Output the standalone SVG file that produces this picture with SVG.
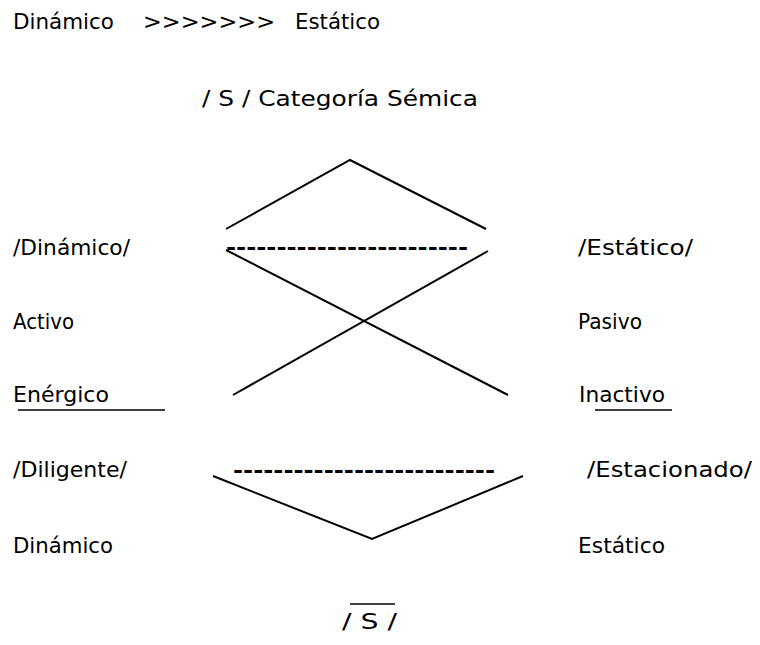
<svg xmlns="http://www.w3.org/2000/svg" width="760" height="645" viewBox="0 0 760 645">
<style>
text{font-family:"DejaVu Sans","Liberation Sans",sans-serif;font-size:21px;fill:#000;}
.dash{font-weight:bold;}
.ln{stroke:#000;stroke-width:2;fill:none;}
.ul{stroke:#000;stroke-width:1.6;fill:none;}
</style>
<rect width="760" height="645" fill="#fff"/>
<g id="title">
<text x="13" y="29" textLength="101" lengthAdjust="spacingAndGlyphs">Dinámico</text>
<text x="143" y="29" textLength="132" lengthAdjust="spacingAndGlyphs">&gt;&gt;&gt;&gt;&gt;&gt;&gt;</text>
<text x="295" y="29" textLength="85" lengthAdjust="spacingAndGlyphs">Estático</text>
</g>
<g id="categoria">
<text x="202" y="106" textLength="276" lengthAdjust="spacingAndGlyphs">/ S / Categoría Sémica</text>
</g>
<g id="left-column">
<text x="13" y="255" textLength="117" lengthAdjust="spacingAndGlyphs">/Dinámico/</text>
<text x="13" y="329" textLength="61" lengthAdjust="spacingAndGlyphs">Activo</text>
<text x="13" y="402" textLength="96" lengthAdjust="spacingAndGlyphs">Enérgico</text>
<text x="13" y="477" textLength="114" lengthAdjust="spacingAndGlyphs">/Diligente/</text>
<text x="13" y="553" textLength="100" lengthAdjust="spacingAndGlyphs">Dinámico</text>
</g>
<g id="right-column">
<text x="578" y="255" textLength="115" lengthAdjust="spacingAndGlyphs">/Estático/</text>
<text x="578" y="329" textLength="64" lengthAdjust="spacingAndGlyphs">Pasivo</text>
<text x="579" y="402" textLength="86" lengthAdjust="spacingAndGlyphs">Inactivo</text>
<text x="587" y="477" textLength="165" lengthAdjust="spacingAndGlyphs">/Estacionado/</text>
<text x="578" y="553" textLength="87" lengthAdjust="spacingAndGlyphs">Estático</text>
</g>
<g id="s-bar">
<text x="342" y="629" textLength="55" lengthAdjust="spacingAndGlyphs">/ S /</text>
<line class="ul" x1="350" y1="604" x2="395" y2="604"/>
</g>
<g id="dashes">
<text class="dash" x="226" y="255" textLength="242" lengthAdjust="spacingAndGlyphs">------------------------</text>
<text class="dash" x="233" y="478" textLength="262" lengthAdjust="spacingAndGlyphs">--------------------------</text>
</g>
<g id="connectors">
<polyline class="ln" points="226,229 350,160 486,229"/>
<line class="ln" x1="226" y1="250" x2="508" y2="395"/>
<line class="ln" x1="488" y1="251" x2="233" y2="395"/>
<polyline class="ln" points="213,476 372,539 523,476"/>
<line class="ul" x1="18" y1="410" x2="165" y2="410"/>
<line class="ul" x1="595" y1="410" x2="672" y2="410"/>
</g>
</svg>
